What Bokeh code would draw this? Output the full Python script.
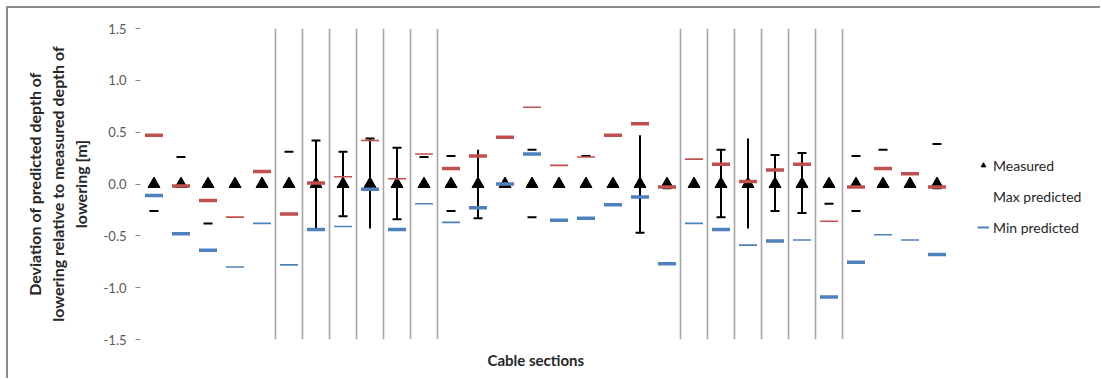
import math
from bokeh.plotting import figure
from bokeh.models import Range1d, FixedTicker, Legend, LegendItem, Title
from bokeh.embed import file_html
from bokeh.resources import INLINE

nan = float("nan")

# ---- data ----
sections = list(range(1, 31))
measured = [0.0] * 30
max_pred = [0.47, -0.02, -0.16, -0.32, 0.12, -0.29, 0.01, 0.07, 0.42, 0.05,
            0.29, 0.15, 0.27, 0.45, 0.74, 0.18, 0.26, 0.47, 0.58, -0.03,
            0.24, 0.19, 0.025, 0.135, 0.19, -0.36, -0.03, 0.15, 0.10, -0.03]
min_pred = [-0.11, -0.48, -0.64, -0.80, -0.38, -0.78, -0.44, -0.41, -0.05, -0.44,
            -0.19, -0.37, -0.23, 0.0, 0.29, -0.35, -0.33, -0.20, -0.125, -0.77,
            -0.38, -0.44, -0.59, -0.55, -0.54, -1.09, -0.755, -0.49, -0.54, -0.68]
# sections where the predicted value is drawn with the thin marker
thin_max = [4, 8, 9, 10, 11, 15, 16, 17, 21, 26]
thin_min = [4, 5, 6, 8, 11, 12, 21, 23, 25, 28, 29]
upper_cap = [nan, 0.26, nan, nan, nan, 0.31, 0.42, 0.31, 0.44, 0.35,
             0.26, 0.27, nan, nan, 0.33, nan, 0.27, nan, nan, nan,
             nan, 0.33, nan, 0.28, 0.30, nan, 0.27, 0.33, nan, 0.385]
lower_cap = [-0.26, nan, -0.38, nan, nan, nan, -0.44, -0.31, nan, -0.34,
             nan, -0.26, -0.33, nan, -0.32, nan, nan, nan, -0.47, -0.04,
             nan, -0.32, nan, -0.26, -0.28, -0.19, -0.26, nan, nan, -0.04]
whisker_hi = [nan, nan, nan, nan, nan, nan, 0.42, 0.31, 0.44, 0.35,
              nan, nan, 0.33, 0.03, nan, nan, nan, nan, 0.47, nan,
              nan, 0.33, 0.44, 0.28, 0.30, nan, nan, nan, nan, nan]
whisker_lo = [nan, nan, nan, nan, nan, nan, -0.44, -0.31, -0.43, -0.34,
              nan, nan, -0.33, -0.01, nan, nan, nan, nan, -0.47, nan,
              nan, -0.32, -0.43, -0.26, -0.28, nan, nan, nan, nan, nan]
# group separators: boundaries after these sections
separators = [5, 6, 7, 8, 9, 10, 11, 20, 21, 22, 23, 24, 25, 26]
y_ticks = [-1.5, -1.0, -0.5, 0.0, 0.5, 1.0, 1.5]

RED = "#C0504D"
BLUE = "#4F81BD"
FONT = "Lato"
TXT = "#262626"

x = [s - 0.5 for s in sections]

# frame spans 960 px; 27 px per section (legend lives in the right part of the frame)
FRAME_W = 960
p = figure(width=1094, height=372, output_backend="svg", toolbar_location=None,
           x_range=Range1d(0, FRAME_W / 27.0), y_range=Range1d(-1.5, 1.5),
           min_border_left=132, min_border_right=2, min_border_top=20, min_border_bottom=41)
p.outline_line_color = None
p.xgrid.visible = False
p.ygrid.visible = False
p.background_fill_color = "white"
p.border_fill_color = "white"
p.styles = {"margin-top": "6px", "margin-left": "6px",
            "border-top": "2px solid #8c8c8c", "border-left": "2px solid #8c8c8c"}

# separators
p.segment(x0=separators, y0=[-1.5] * len(separators), x1=separators, y1=[1.5] * len(separators),
          line_color="#a6a6a6", line_width=1.6)

# whiskers
p.segment(x0=x, y0=whisker_lo, x1=x, y1=whisker_hi, line_color="black", line_width=2)
p.scatter(x=x, y=upper_cap, marker="dash", size=9, line_color="black", line_width=2)
p.scatter(x=x, y=lower_cap, marker="dash", size=9, line_color="black", line_width=2)

# measured
r_meas = p.scatter(x=x, y=measured, marker="triangle", size=12,
                   fill_color="black", line_color="black")

def split(vals, thin):
    thick_v = [v if (i + 1) not in thin else nan for i, v in enumerate(vals)]
    thin_v = [v if (i + 1) in thin else nan for i, v in enumerate(vals)]
    return thick_v, thin_v

mx_thick, mx_thin = split(max_pred, thin_max)
mn_thick, mn_thin = split(min_pred, thin_min)
p.scatter(x=x, y=mx_thick, marker="dash", size=18, line_color=RED, line_width=3.5)
p.scatter(x=x, y=mx_thin, marker="dash", size=18, line_color=RED, line_width=1.6)
p.scatter(x=x, y=mn_thick, marker="dash", size=18, line_color=BLUE, line_width=3.5)
p.scatter(x=x, y=mn_thin, marker="dash", size=18, line_color=BLUE, line_width=1.6)

# legend dummies
r_max = p.line(x=[nan, nan], y=[nan, nan], line_alpha=0)
r_min = p.line(x=[nan, nan], y=[nan, nan], line_color=BLUE, line_width=2)
legend = Legend(items=[LegendItem(label="Measured", renderers=[r_meas]),
                       LegendItem(label="Max predicted", renderers=[r_max]),
                       LegendItem(label="Min predicted", renderers=[r_min])],
                location=(837, 102), orientation="vertical")
legend.border_line_color = None
legend.background_fill_alpha = 0
legend.padding = 0
legend.margin = 0
legend.spacing = 11
legend.glyph_width = 12
legend.glyph_height = 20
legend.label_height = 20
legend.label_standoff = 4
legend.label_text_font = FONT
legend.label_text_font_size = "14px"
legend.label_text_color = TXT
p.add_layout(legend, "center")

# axes
p.yaxis.ticker = FixedTicker(ticks=y_ticks)
p.yaxis.major_label_overrides = {t: f"{t:.1f}" for t in y_ticks}
p.yaxis.axis_line_color = None
p.yaxis.major_tick_line_color = "#8c8c8c"
p.yaxis.major_tick_out = 5
p.yaxis.major_tick_in = 0
p.yaxis.minor_tick_line_color = None
p.yaxis.major_label_text_font = FONT
p.yaxis.major_label_text_font_size = "13px"
p.yaxis.major_label_text_color = "#595959"
p.yaxis.major_label_standoff = 9
p.yaxis.axis_label = "Deviation of predicted depth of\nlowering relative to measured depth of\nlowering [m]"
p.yaxis.axis_label_text_font = FONT
p.yaxis.axis_label_text_font_style = "bold"
p.yaxis.axis_label_text_font_size = "16px"
p.yaxis.axis_label_text_color = TXT
p.yaxis.axis_label_standoff = 11

p.xaxis.visible = False
xt = Title(text="Cable sections", align="left", offset=347, standoff=19,
           text_font=FONT, text_font_style="bold", text_font_size="15px", text_color=TXT)
p.add_layout(xt, "below")

open("out.html", "w").write(file_html(p, INLINE))
